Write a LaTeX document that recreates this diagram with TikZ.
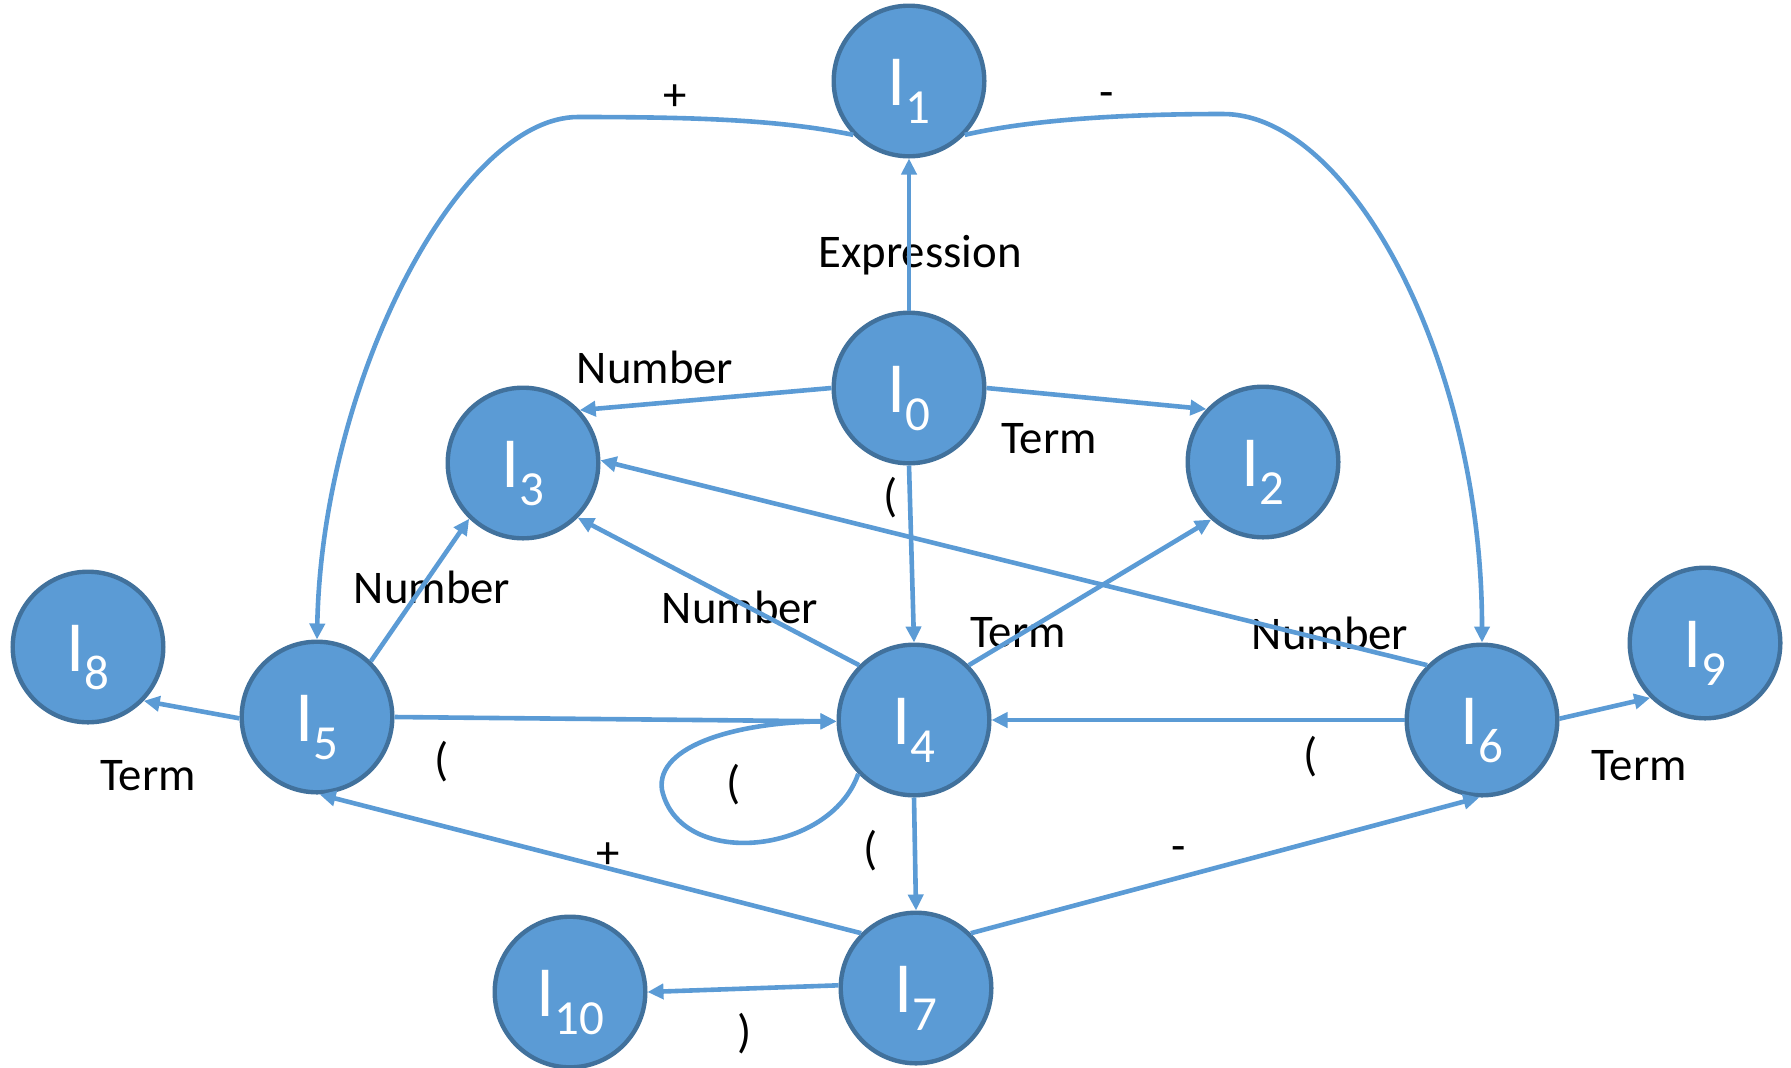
\documentclass[tikz,border=0pt]{standalone}
\usepackage{fontspec}
\setmainfont{Carlito}
\usetikzlibrary{arrows.meta}
\definecolor{nodefill}{HTML}{5B9BD5}
\definecolor{nodeline}{HTML}{41719C}
\definecolor{edgecol}{HTML}{5B9BD5}
\newcommand{\stlab}[1]{I\raisebox{-9pt}{\fontsize{24.5}{25}\selectfont #1}}
\begin{document}
\begin{tikzpicture}[x=0.5pt,y=-0.5pt,
  state/.style={circle, draw=nodeline, fill=nodefill, line width=2.2pt, minimum size=75.3pt, inner sep=0pt, text=white, font=\fontsize{36}{36}\selectfont, text height=24pt, text depth=0pt},
  lab/.style={font=\fontsize{23.4}{28}\selectfont, inner sep=0pt, anchor=base},
  sym/.style={font=\fontsize{23.4}{28}\selectfont, inner sep=0pt, anchor=center},
  edge/.style={draw=edgecol, line width=2.3pt, -{Triangle[length=8pt,width=7.5pt]}}]
\useasboundingbox (0,0) rectangle (1791,1067);
\clip (0,0) rectangle (1791,1067);
% states
\node[state] (I0) at (909,388) {\stlab{0}};
\node[state] (I1) at (909,81) {\stlab{1}};
\node[state] (I2) at (1263,462) {\stlab{2}};
\node[state] (I3) at (523,463) {\stlab{3}};
\node[state] (I4) at (914,720) {\stlab{4}};
\node[state] (I5) at (317,717) {\stlab{5}};
\node[state] (I6) at (1482,720) {\stlab{6}};
\node[state] (I7) at (916,988) {\stlab{7}};
\node[state] (I8) at (88,647) {\stlab{8}};
\node[state] (I9) at (1705,643) {\stlab{9}};
\node[state] (I10) at (570,992) {\stlab{10}};
% labels
\node[lab] (lExpr) at (920,267) {Expression};
\node[lab] (lNa) at (655,383) {Number};
\node[lab] (lTa) at (1049,453) {Term};
\node[sym] (lPa) at (891,498) {(};
\node[lab] (lPlusTop) at (675,110) {+};
\node[lab] (lMinusTop) at (1107,107) {-};
\node[lab] (lNb) at (432,603) {Number};
\node[lab] (lNc) at (740,623) {Number};
\node[lab] (lTb) at (1018,647) {Term};
\node[lab] (lNd) at (1330,649) {Number};
\node[lab] (lTc) at (148,790) {Term};
\node[lab] (lTd) at (1639,780) {Term};
\node[sym] (lPb) at (442,762) {(};
\node[sym] (lPc) at (734,785) {(};
\node[sym] (lPd) at (871,851) {(};
\node[sym] (lPe) at (1311,757) {(};
\node[lab] (lPlusBot) at (608,868) {+};
\node[lab] (lMinusBot) at (1179,861) {-};
\node[sym] (lRp) at (745,1034) {)};
% edges
\draw[edge] (I0.north) -- (I1.south);
\draw[edge] (I0.180) -- (I3.43);
\draw[edge] (I0.0) -- (I2.137);
\draw[edge] (I0.south) -- (I4.north);
\draw[edge] (I1.224) .. controls (780,120) and (700,117) .. (578,117)
  .. controls (460,117) and (322,380) .. (I5.north);
\draw[edge] (I1.316) .. controls (1030,120) and (1120,114) .. (1223,114)
  .. controls (1350,114) and (1482,360) .. (I6.north);
\draw[edge] (I5.46) -- (I3.226);
\draw[edge] (I5.181) -- (I8.316);
\draw[edge] (I5.0) -- (I4.181);
\draw[edge] (I4.135) -- (I3.315);
\draw[edge] (I4.45) -- (I2.228);
\draw[edge] (I6.135) -- (I3.2);
\draw[edge] (I6.180) -- (I4.0);
\draw[edge] (I6.1) -- (I9.225);
\draw[edge] (I4.224) .. controls (830,855) and (680,870) .. (662,790)
  .. controls (655,745) and (740,722) .. (I4.181);
\draw[edge] (I4.south) -- (I7.north);
\draw[edge] (I7.135) -- (I5.272);
\draw[edge] (I7.45) -- (I6.268);
\draw[edge] (I7.178) -- (I10.0);
\end{tikzpicture}
\end{document}
